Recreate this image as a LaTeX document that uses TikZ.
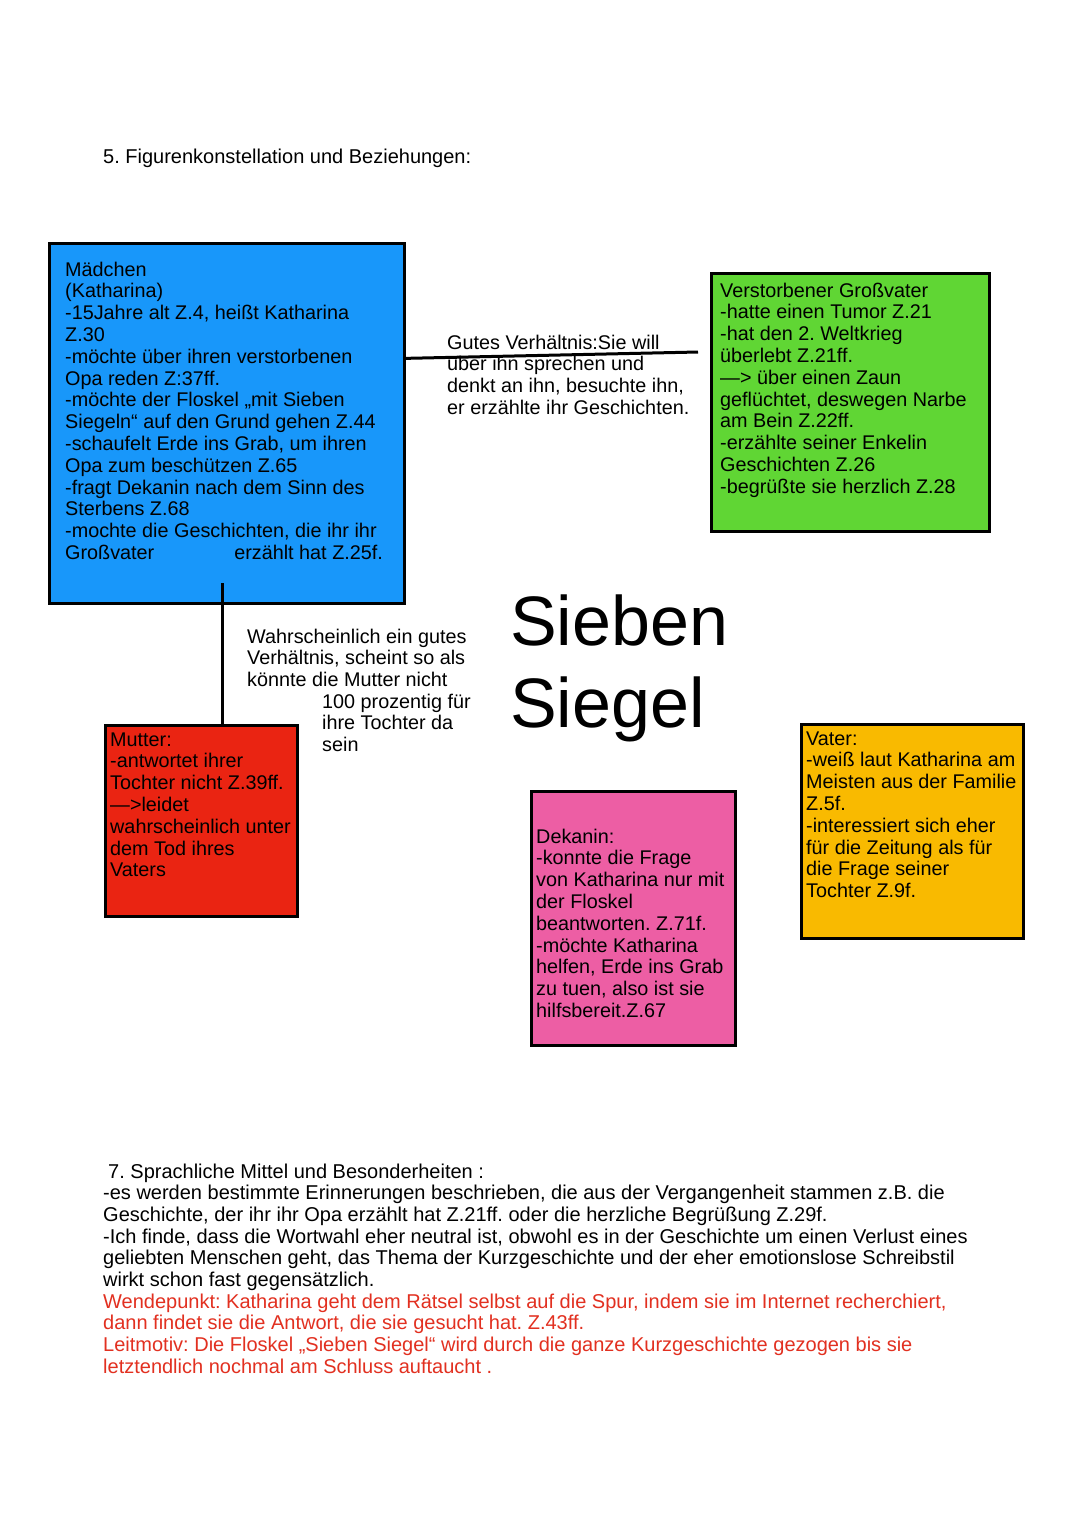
\documentclass[tikz,border=0pt]{standalone}
\usepackage{fontspec}
\setmainfont{Liberation Sans}
\usepackage{xcolor}
\usepackage{tikz}
\frenchspacing

\definecolor{boxblue}{RGB}{24,151,250}
\definecolor{boxgreen}{RGB}{96,214,52}
\definecolor{boxred}{RGB}{234,36,18}
\definecolor{boxpink}{RGB}{237,94,164}
\definecolor{boxorange}{RGB}{249,186,0}
\definecolor{notered}{RGB}{226,48,32}

\begin{document}
\begin{tikzpicture}[x=1pt,y=-1pt,
    figbox/.style={shape=rectangle,draw=black,line width=3pt,anchor=north west,inner sep=0pt},
    % anchor: Grundlinie der letzten Zeile
    figtext/.style={anchor=base west,align=left,inner sep=0pt,font=\fontsize{19.8}{21.8}\selectfont},
    fliesstext/.style={figtext,font=\fontsize{20}{21.7}\selectfont}]
    \useasboundingbox[fill=white] (0,0) rectangle (1080,1527);

    \node[fliesstext] (titel) at (103,163) {5. Figurenkonstellation und Beziehungen:};

    \node[figbox,fill=boxblue,minimum width=355pt,minimum height=360pt] (maedchen) at (48,242) {};
    \node[figbox,fill=boxgreen,minimum width=278pt,minimum height=258pt] (opa) at (710,272) {};
    \node[figbox,fill=boxred,minimum width=192pt,minimum height=191pt] (mutter) at (104,724) {};
    \node[figbox,fill=boxpink,minimum width=204pt,minimum height=254pt] (dekanin) at (530,790) {};
    \node[figbox,fill=boxorange,minimum width=222pt,minimum height=214pt] (vater) at (800,723) {};

    \node[figtext] (tmaedchen) at (65,559.4) {Mädchen\\(Katharina)\\-15Jahre alt Z.4, heißt Katharina\\Z.30\\-möchte über ihren verstorbenen\\Opa reden Z:37ff.\\-möchte der Floskel „mit Sieben\\Siegeln“ auf den Grund gehen Z.44\\-schaufelt Erde ins Grab, um ihren\\Opa zum beschützen Z.65\\-fragt Dekanin nach dem Sinn des\\Sterbens Z.68\\-mochte die Geschichten, die ihr ihr\\Großvater\hspace{80pt}erzählt hat Z.25f.};
    \node[figtext] (topa) at (720,493.2) {Verstorbener Großvater\\-hatte einen Tumor Z.21\\-hat den 2. Weltkrieg\\überlebt Z.21ff.\\—> über einen Zaun\\geflüchtet, deswegen Narbe\\am Bein Z.22ff.\\-erzählte seiner Enkelin\\Geschichten Z.26\\-begrüßte sie herzlich Z.28};
    \node[figtext] (tmutter) at (110,876.8) {Mutter:\\-antwortet ihrer\\Tochter nicht Z.39ff.\\—>leidet\\wahrscheinlich unter\\dem Tod ihres\\Vaters};
    \node[figtext] (tdekanin) at (536,1017.4) {Dekanin:\\-konnte die Frage\\von Katharina nur mit\\der Floskel\\beantworten. Z.71f.\\-möchte Katharina\\helfen, Erde ins Grab\\zu tuen, also ist sie\\hilfsbereit.Z.67};
    \node[figtext] (tvater) at (806,897.6) {Vater:\\-weiß laut Katharina am\\Meisten aus der Familie\\Z.5f.\\-interessiert sich eher\\für die Zeitung als für\\die Frage seiner\\Tochter Z.9f.};

    \node[figtext] (gutes) at (447,414.4) {Gutes Verhältnis:Sie will\\über ihn sprechen und\\denkt an ihn, besuchte ihn,\\er erzählte ihr Geschichten.};
    \node[figtext] (wahr) at (247,686.6) {Wahrscheinlich ein gutes\\Verhältnis, scheint so als\\könnte die Mutter nicht};
    \node[figtext] (wahr2) at (322,751.6) {100 prozentig für\\ihre Tochter da\\sein};

    \node[anchor=base west,inner sep=0pt,font=\fontsize{70}{82}\selectfont] (sieben) at (510,645) {Sieben};
    \node[anchor=base west,inner sep=0pt,font=\fontsize{70}{82}\selectfont] (siegel) at (510,727) {Siegel};

    % Verbindungen
    \coordinate (g1) at (698,352);
    \coordinate (v0) at (222,583);
    \path[line width=3pt] (maedchen.20) edge (g1);
    \path[line width=3pt] (v0) edge (v0 |- mutter.north);

    \node[fliesstext] (sprache) at (108,1178) {7. Sprachliche Mittel und Besonderheiten :};
    \node[fliesstext] (sprache2) at (103,1286.5) {-es werden bestimmte Erinnerungen beschrieben, die aus der Vergangenheit stammen z.B. die\\Geschichte, der ihr ihr Opa erzählt hat Z.21ff. oder die herzliche Begrüßung Z.29f.\\-Ich finde, dass die Wortwahl eher neutral ist, obwohl es in der Geschichte um einen Verlust eines\\geliebten Menschen geht, das Thema der Kurzgeschichte und der eher emotionslose Schreibstil\\wirkt schon fast gegensätzlich.};
    \node[fliesstext,text=notered] (wende) at (103,1373.3) {Wendepunkt: Katharina geht dem Rätsel selbst auf die Spur, indem sie im Internet recherchiert,\\dann findet sie die Antwort, die sie gesucht hat. Z.43ff.\\Leitmotiv: Die Floskel „Sieben Siegel“ wird durch die ganze Kurzgeschichte gezogen bis sie\\letztendlich nochmal am Schluss auftaucht .};
\end{tikzpicture}
\end{document}
